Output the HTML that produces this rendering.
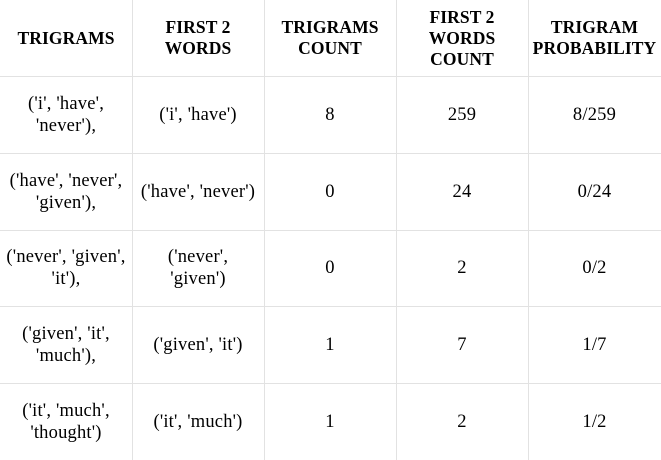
<!DOCTYPE html>
<html><head><meta charset="utf-8"><style>
html,body{margin:0;padding:0;background:#fff;width:661px;height:460px;overflow:hidden}
#t{position:relative;width:661px;height:460px;font-family:"Liberation Serif","DejaVu Serif",serif;color:#000}
.c{position:absolute;display:flex;align-items:center;justify-content:center;text-align:center;box-sizing:border-box;font-size:18.5px;line-height:22px;padding:0 2px;letter-spacing:0.2px;white-space:nowrap}
.h{font-weight:bold;font-size:17.5px;line-height:21px;letter-spacing:0.1px}
.vl{position:absolute;top:0;height:460px;width:1px;background:#e2e2e2}
.hl{position:absolute;left:0;width:661px;height:1px;background:#e2e2e2}
</style></head><body>
<div id="t"></div>
<script>
const cols=[0,132,264,396,528,661];
const rows=[0,76,153,230,306,383,460];
const header=["TRIGRAMS","FIRST 2<br>WORDS","TRIGRAMS<br>COUNT","FIRST 2<br>WORDS<br>COUNT","TRIGRAM<br>PROBABILITY"];
const trigrams=["('i', 'have',<br>'never'),","('have', 'never',<br>'given'),","('never', 'given',<br>'it'),","('given', 'it',<br>'much'),","('it', 'much',<br>'thought')"];
const firstTwo=["('i', 'have')","('have', 'never')","('never',<br>'given')","('given', 'it')","('it', 'much')"];
const triCount=[8,0,0,1,1];
const firstCount=[259,24,2,7,2];
const t=document.getElementById('t');
function cell(html,ci,ri,cls){
  const d=document.createElement('div');
  d.className='c'+(cls?' '+cls:'');
  d.style.left=cols[ci]+'px';d.style.width=(cols[ci+1]-cols[ci])+'px';
  d.style.top=rows[ri]+'px';d.style.height=(rows[ri+1]-rows[ri])+'px';
  d.innerHTML=html;
  
  
  t.appendChild(d);
}
header.forEach((h,i)=>cell(h,i,0,'h'));
for(let r=0;r<trigrams.length;r++){
  cell(trigrams[r],0,r+1);
  cell(firstTwo[r],1,r+1);
  cell(String(triCount[r]),2,r+1);
  cell(String(firstCount[r]),3,r+1);
  cell(triCount[r]+'/'+firstCount[r],4,r+1);
}
for(let i=1;i<cols.length-1;i++){
  const l=document.createElement('div');l.className='vl';l.style.left=cols[i]+'px';
  
  
  t.appendChild(l);
}
for(let i=1;i<rows.length-1;i++){
  const l=document.createElement('div');l.className='hl';l.style.top=rows[i]+'px';
  
  
  t.appendChild(l);
}
</script>
</body></html>
